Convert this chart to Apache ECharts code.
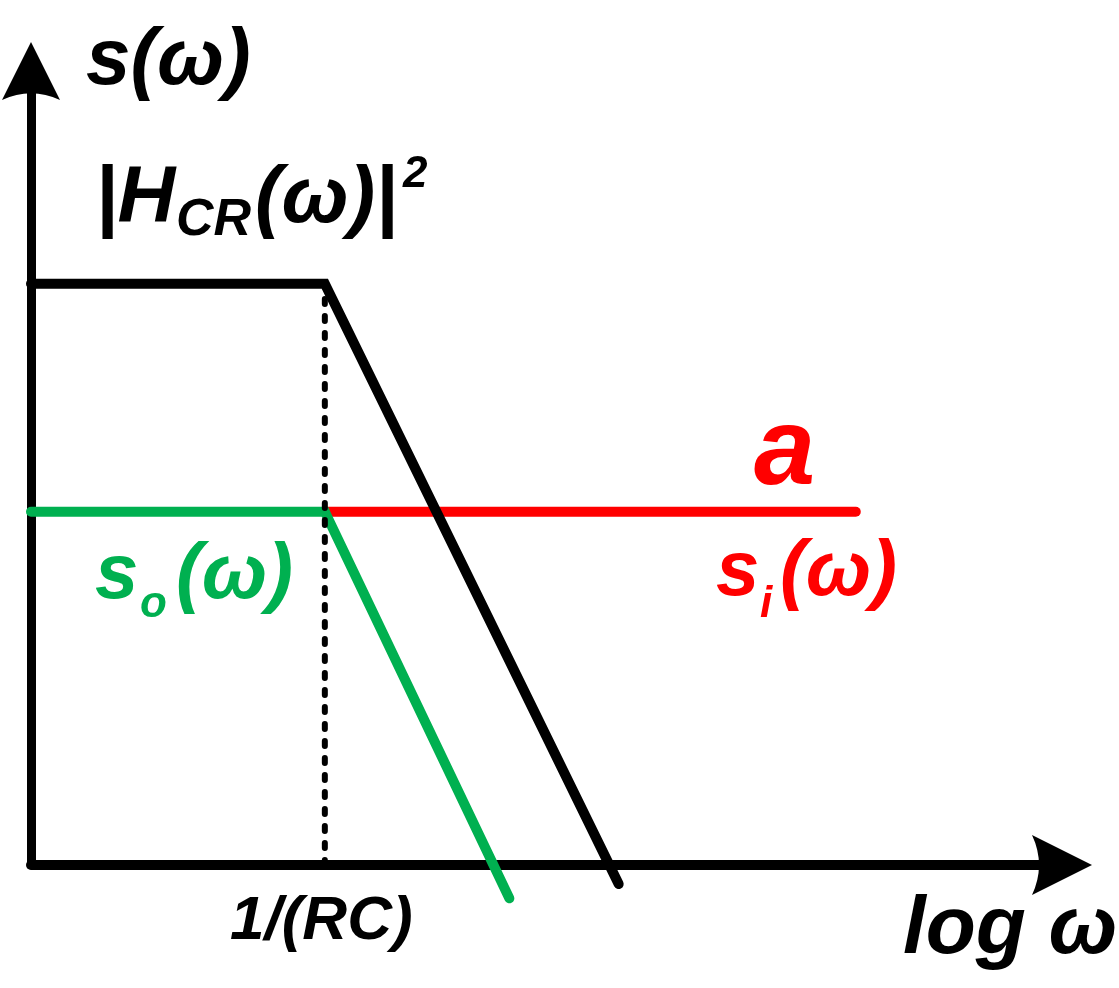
<!DOCTYPE html>
<html>
<head>
<meta charset="utf-8">
<script src="https://cdn.jsdelivr.net/npm/echarts@6/dist/echarts.min.js"></script>
<style>
html,body{margin:0;padding:0;background:#fff;}
#chart{width:1119px;height:988px;}
</style>
</head>
<body>
<div id="chart"></div>
<script>
// Data (x = log ω in arbitrary units, y = spectral density)
const cutoff = 2.85;               // 1/(RC)
const hcrX = [0, 2.85, 5.70];      // |H_CR(ω)|^2
const hcrY = [7.32, 7.32, -0.24];
const siX = [2.85, 8.0];           // s_i(ω) = a
const siY = [4.45, 4.45];
const soX = [0, 2.85, 4.64];       // s_o(ω)
const soY = [4.45, 4.45, -0.42];
const cutoffX = [2.85, 2.85];
const cutoffY = [0, 7.32];

const BLACK = '#000000', RED = '#FF0000', GREEN = '#00B050';
const FONT = '"Liberation Sans", Arial, sans-serif';

function pairs(xs, ys) { return xs.map((x, i) => [x, ys[i]]); }

const chart = echarts.init(document.getElementById('chart'), null, {renderer: 'canvas'});

const arrowPath = 'path://M30,0 L60,60 Q30,46 0,60 Z';

function txt(text, x, y, size, color) {
  return {
    type: 'text', x: x, y: y, z: 100,
    style: {
      text: text, fill: color,
      font: 'italic bold ' + size + 'px ' + FONT,
      align: 'left', verticalAlign: 'middle'
    }
  };
}

const option = {
  animation: false,
  backgroundColor: '#fff',
  grid: {left: 31, right: 57, top: 71, bottom: 123, containLabel: false},
  xAxis: {
    type: 'value', min: 0, max: 10, interval: 1,
    axisLine: {show: true, symbol: ['none', arrowPath], symbolSize: [62, 60],
      lineStyle: {color: BLACK, width: 10, cap: 'round'}},
    axisTick: {show: false}, axisLabel: {show: false}, splitLine: {show: false}
  },
  yAxis: {
    type: 'value', min: 0, max: 10, interval: 1,
    axisLine: {show: true, symbol: ['none', arrowPath], symbolSize: [60, 58],
      lineStyle: {color: BLACK, width: 9, cap: 'round'}},
    axisTick: {show: false}, axisLabel: {show: false}, splitLine: {show: false}
  },
  series: [
    {
      name: 's_o', type: 'line', data: pairs(soX, soY), clip: false, showSymbol: false,
      lineStyle: {color: GREEN, width: 10, cap: 'round', join: 'miter'}, z: 3
    },
    {
      name: 's_i', type: 'line', data: pairs(siX, siY), clip: false, showSymbol: false,
      lineStyle: {color: RED, width: 10, cap: 'round'}, z: 2
    },
    {
      name: 'H', type: 'line', data: pairs(hcrX, hcrY), clip: false, showSymbol: false,
      lineStyle: {color: BLACK, width: 10, cap: 'round', join: 'miter'}, z: 4
    },
    {
      name: 'cutoff', type: 'line', data: pairs(cutoffX, cutoffY), clip: false, showSymbol: false,
      lineStyle: {color: BLACK, width: 6, type: [5, 12], cap: 'round'}, z: 5
    }
  ],
  graphic: [
    txt('s(ω)', 86, 62, 80, BLACK),
    txt('|H', 95, 200, 80, BLACK),
    txt('CR', 176, 221, 52, BLACK),
    txt('(ω)|', 255, 200, 80, BLACK),
    txt('2', 403, 175, 44, BLACK),
    txt('a', 754, 454, 110, RED),
    txt('s', 716, 573, 78, RED),
    txt('i', 760, 605, 44, RED),
    txt('(ω)', 780, 573, 78, RED),
    txt('s', 95, 576, 78, GREEN),
    txt('o', 140, 605, 44, GREEN),
    txt('(ω)', 176, 576, 78, GREEN),
    txt('1/(RC)', 230, 922, 62, BLACK),
    txt('log ω', 903, 930, 82, BLACK)
  ]
};
chart.setOption(option);
</script>
</body>
</html>
